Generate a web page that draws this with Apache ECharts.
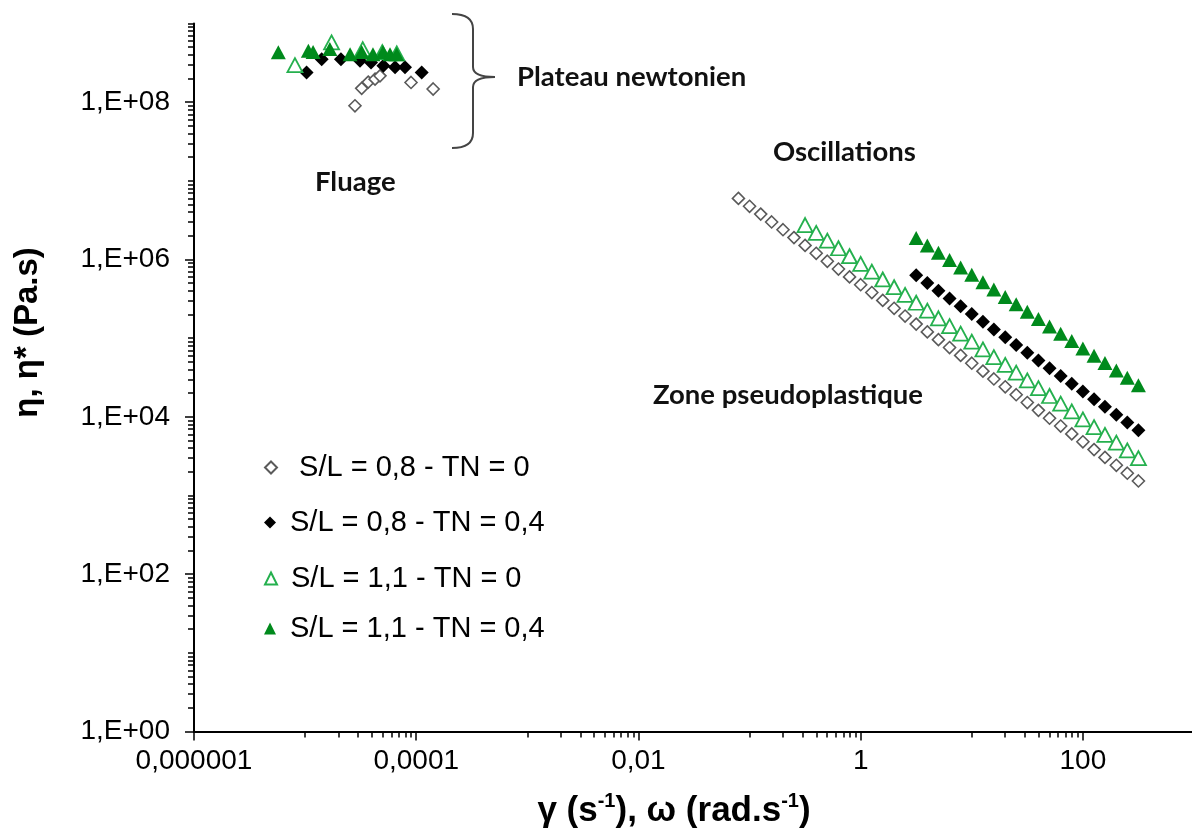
<!DOCTYPE html>
<html lang="fr">
<head>
<meta charset="UTF-8">
<title>Viscosité - fluage et oscillations</title>
<script src="https://cdn.jsdelivr.net/npm/echarts@6/dist/echarts.min.js"></script>
<style>
    html, body { margin: 0; padding: 0; background: #fff; }
    #main { width: 1192px; height: 832px; }
</style>
</head>
<body>
<div id="main"></div>
<script>
    // axis ticks and labels
    const xTickValues = [1e-6, 1e-4, 1e-2, 1, 100];
    const xTickLabels = ['0,000001', '0,0001', '0,01', '1', '100'];
    const yTickValues = [1, 1e2, 1e4, 1e6, 1e8];
    const yTickLabels = ['1,E+00', '1,E+02', '1,E+04', '1,E+06', '1,E+08'];

    const seriesNames = [' S/L = 0,8 - TN = 0', 'S/L = 0,8 - TN = 0,4', 'S/L = 1,1 - TN = 0', 'S/L = 1,1 - TN = 0,4'];

    // Fluage (creep) points
    const creepX_08_0 = [2.81e-5, 3.23e-5, 3.7e-5, 4.26e-5, 4.72e-5, 8.98e-5, 1.42e-4];
    const creepY_08_0 = [9.0e7, 1.5e8, 1.8e8, 1.96e8, 2.16e8, 1.78e8, 1.47e8];
    const creepX_08_04 = [1.03e-5, 1.41e-5, 2.1e-5, 3.12e-5, 3.92e-5, 5.06e-5, 6.45e-5, 7.93e-5, 1.12e-4];
    const creepY_08_04 = [2.39e8, 3.5e8, 3.5e8, 3.36e8, 3.2e8, 2.9e8, 2.77e8, 2.77e8, 2.39e8];
    const creepX_11_0 = [8.1e-6, 1.73e-5, 3.3e-5, 4.95e-5, 6.68e-5];
    const creepY_11_0 = [2.95e8, 5.75e8, 4.73e8, 4.33e8, 4.17e8];
    const creepX_11_04 = [5.74e-6, 1.07e-5, 1.18e-5, 1.67e-5, 2.54e-5, 3.23e-5, 4.08e-5, 5.02e-5, 5.81e-5, 6.68e-5];
    const creepY_11_04 = [4.3e8, 4.5e8, 4.33e8, 4.73e8, 4.08e8, 4.33e8, 4.08e8, 4.33e8, 4.08e8, 4.08e8];

    // Oscillations (frequency sweep)
    const oscX_08_0 = [0.0794, 0.1, 0.126, 0.158, 0.2, 0.251, 0.316, 0.398, 0.501, 0.631, 0.794,
        1, 1.26, 1.58, 2, 2.51, 3.16, 3.98, 5.01, 6.31, 7.94,
        10, 12.6, 15.8, 20, 25.1, 31.6, 39.8, 50.1, 63.1, 79.4,
        100, 126, 158, 200, 251, 316];
    const oscY_08_0 = [5.98e6, 4.75e6, 3.78e6, 3.0e6, 2.39e6, 1.9e6, 1.51e6, 1.2e6, 9.5e5, 7.57e5, 6.01e5,
        4.78e5, 3.8e5, 3.02e5, 2.4e5, 1.91e5, 1.51e5, 1.2e5, 9.57e4, 7.6e4, 6.04e4,
        4.8e4, 3.81e4, 3.03e4, 2.41e4, 1.91e4, 1.52e4, 1.21e4, 9.6e3, 7.64e3, 6.07e3,
        4.82e3, 3.83e3, 3.05e3, 2.42e3, 1.92e3, 1.53e3];
    const oscX_11_0 = [0.316, 0.398, 0.501, 0.631, 0.794,
        1, 1.26, 1.58, 2, 2.51, 3.16, 3.98, 5.01, 6.31, 7.94,
        10, 12.6, 15.8, 20, 25.1, 31.6, 39.8, 50.1, 63.1, 79.4,
        100, 126, 158, 200, 251, 316];
    const oscY_11_0 = [2.74e6, 2.18e6, 1.74e6, 1.39e6, 1.1e6,
        8.79e5, 7.0e5, 5.57e5, 4.44e5, 3.54e5, 2.82e5, 2.24e5, 1.79e5, 1.42e5, 1.14e5,
        9.04e4, 7.2e4, 5.73e4, 4.57e4, 3.64e4, 2.9e4, 2.31e4, 1.84e4, 1.47e4, 1.17e4,
        9.29e3, 7.4e3, 5.89e3, 4.7e3, 3.74e3, 2.98e3];
    const oscX_08_04 = [3.16, 3.98, 5.01, 6.31, 7.94,
        10, 12.6, 15.8, 20, 25.1, 31.6, 39.8, 50.1, 63.1, 79.4,
        100, 126, 158, 200, 251, 316];
    const oscY_08_04 = [6.31e5, 5.03e5, 4.01e5, 3.2e5, 2.55e5,
        2.03e5, 1.62e5, 1.29e5, 1.03e5, 8.2e4, 6.53e4, 5.21e4, 4.15e4, 3.31e4, 2.64e4,
        2.1e4, 1.67e4, 1.34e4, 1.06e4, 8.49e3, 6.76e3];
    const oscX_11_04 = [3.16, 3.98, 5.01, 6.31, 7.94,
        10, 12.6, 15.8, 20, 25.1, 31.6, 39.8, 50.1, 63.1, 79.4,
        100, 126, 158, 200, 251, 316];
    const oscY_11_04 = [1.87e6, 1.51e6, 1.22e6, 9.82e5, 7.91e5,
        6.38e5, 5.14e5, 4.15e5, 3.34e5, 2.7e5, 2.17e5, 1.75e5, 1.41e5, 1.14e5, 9.19e4,
        7.41e4, 5.97e4, 4.82e4, 3.88e4, 3.13e4, 2.52e4];

    function pairs(xs, ys) {
        return xs.map((x, i) => [x, ys[i]]);
    }

    // minor ticks like the Excel log axes
    const yMinorTicks = [];
    for (let e = 0; e < 9; e++) {
        for (let m = 1; m <= 9; m++) {
            if (m === 1 && e % 2 === 0) continue;
            yMinorTicks.push(m * Math.pow(10, e));
        }
    }
    yMinorTicks.push(1e9);
    const xMinorTicks = [];
    [-5, -3, -1, 1].forEach(e => {
        for (let m = 1; m <= 9; m++) xMinorTicks.push(m * Math.pow(10, e));
    });

    function tickLabel(values, labels) {
        return function (v) {
            const i = values.findIndex(t => Math.abs(Math.log10(t) - Math.log10(v)) < 1e-6);
            return i >= 0 ? labels[i] : '';
        };
    }

    const chart = echarts.init(document.getElementById('main'));

    const axisFont = 'Liberation Sans';
    const noteFont = 'Lato';
    const noteStyle = { fontSize: 27.5, fontWeight: 'bold', fontFamily: noteFont, fill: '#111' };
    const braceStyle = { fill: 'none', stroke: '#444', lineWidth: 2 };

    const baseLog = { type: 'log', logBase: 10, splitLine: { show: false } };

    const legendCenters = [466, 521, 577, 627];

    const option = {
        animation: false,
        backgroundColor: '#fff',
        grid: { left: 194, top: 23.5, width: 1000, height: 708, outerBoundsMode: 'none' },
        xAxis: [
            Object.assign({}, baseLog, {
                min: 1e-6, max: 1e3,
                axisLine: { lineStyle: { color: '#000', width: 2 } },
                axisTick: { customValues: xTickValues, length: 9, lineStyle: { color: '#000', width: 1.5 } },
                axisLabel: { customValues: xTickValues, formatter: tickLabel(xTickValues, xTickLabels),
                    fontSize: 28, fontFamily: axisFont, color: '#000', margin: 16 },
                name: '{b|γ (s}{sup|-1}{b|), ω (rad.s}{sup|-1}{b|)}',
                nameLocation: 'middle',
                nameGap: 60,
                nameTextStyle: {
                    padding: [0, 40, 0, 0],
                    rich: {
                        b: { fontSize: 35, fontWeight: 'bold', fontFamily: axisFont, color: '#000', lineHeight: 40 },
                        sup: { fontSize: 20, fontWeight: 'bold', fontFamily: axisFont, color: '#000', verticalAlign: 'top', lineHeight: 40 }
                    }
                }
            }),
            Object.assign({}, baseLog, {
                min: 1e-6, max: 1e3, position: 'bottom',
                axisLine: { show: false },
                axisTick: { customValues: xMinorTicks, length: 6, lineStyle: { color: '#000', width: 1.5 } },
                axisLabel: { show: false }
            })
        ],
        yAxis: [
            Object.assign({}, baseLog, {
                min: 1, max: 1e9,
                axisLine: { lineStyle: { color: '#000', width: 2 } },
                axisTick: { customValues: yTickValues, length: 9, lineStyle: { color: '#000', width: 1.5 } },
                axisLabel: { customValues: yTickValues, formatter: tickLabel(yTickValues, yTickLabels),
                    fontSize: 28, fontFamily: axisFont, color: '#000', margin: 24 },
                name: 'η, η* (Pa.s)',
                nameLocation: 'middle',
                nameGap: 150,
                nameTextStyle: { fontSize: 33, fontWeight: 'bold', fontFamily: axisFont, color: '#000', padding: [0, 0, 0, 90] }
            }),
            Object.assign({}, baseLog, {
                min: 1, max: 1e9, position: 'left',
                axisLine: { show: false },
                axisTick: { customValues: yMinorTicks, length: 6, lineStyle: { color: '#000', width: 1.5 } },
                axisLabel: { show: false }
            })
        ],
        legend: seriesNames.map((name, i) => ({
            data: [name],
            orient: 'vertical',
            left: 259,
            top: legendCenters[i] - 18,
            itemWidth: 12,
            itemHeight: 12,
            selectedMode: false,
            textStyle: { fontSize: 29, fontFamily: axisFont, color: '#000', padding: [0, 0, 0, 9] }
        })),
        series: [
            {
                name: seriesNames[0], type: 'scatter', symbol: 'diamond', symbolSize: 12,
                itemStyle: { color: '#fff', borderColor: '#5a5a5a', borderWidth: 1.6, opacity: 1 },
                data: pairs(creepX_08_0, creepY_08_0).concat(pairs(oscX_08_0, oscY_08_0))
            },
            {
                name: seriesNames[1], type: 'scatter', symbol: 'diamond', symbolSize: 14,
                itemStyle: { color: '#000', opacity: 1 },
                data: pairs(creepX_08_04, creepY_08_04).concat(pairs(oscX_08_04, oscY_08_04))
            },
            {
                name: seriesNames[2], type: 'scatter', symbol: 'triangle', symbolSize: [15, 14],
                itemStyle: { color: '#fff', borderColor: '#25b04e', borderWidth: 1.8, opacity: 1 },
                data: pairs(creepX_11_0, creepY_11_0).concat(pairs(oscX_11_0, oscY_11_0))
            },
            {
                name: seriesNames[3], type: 'scatter', symbol: 'triangle', symbolSize: [15, 14],
                itemStyle: { color: '#008a1c', opacity: 1 },
                data: pairs(creepX_11_04, creepY_11_04).concat(pairs(oscX_11_04, oscY_11_04))
            }
        ],
        graphic: [
            { type: 'bezierCurve', shape: { x1: 452, y1: 14, x2: 473, y2: 29, cpx1: 473, cpy1: 14 }, style: braceStyle },
            { type: 'line', shape: { x1: 473, y1: 29, x2: 473, y2: 67 }, style: braceStyle },
            { type: 'bezierCurve', shape: { x1: 473, y1: 67, x2: 495, y2: 77, cpx1: 473, cpy1: 77 }, style: braceStyle },
            { type: 'bezierCurve', shape: { x1: 495, y1: 77, x2: 473, y2: 87, cpx1: 473, cpy1: 77 }, style: braceStyle },
            { type: 'line', shape: { x1: 473, y1: 87, x2: 473, y2: 133 }, style: braceStyle },
            { type: 'bezierCurve', shape: { x1: 473, y1: 133, x2: 452, y2: 148, cpx1: 473, cpy1: 148 }, style: braceStyle },
            { type: 'text', left: 517, top: 63, style: Object.assign({ text: 'Plateau newtonien' }, noteStyle) },
            { type: 'text', left: 315, top: 168, style: Object.assign({ text: 'Fluage' }, noteStyle) },
            { type: 'text', left: 773, top: 138, style: Object.assign({ text: 'Oscillations' }, noteStyle) },
            { type: 'text', left: 653, top: 381, style: Object.assign({ text: 'Zone pseudoplastique' }, noteStyle) }
        ]
    };

    chart.setOption(option);
</script>
</body>
</html>
